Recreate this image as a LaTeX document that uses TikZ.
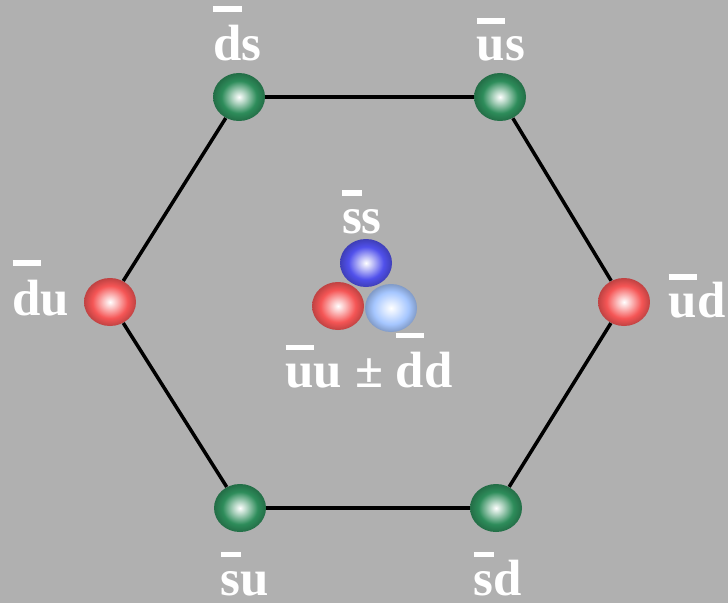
\documentclass[tikz,border=0pt]{standalone}
\usepackage{fontspec}
\setmainfont{Liberation Serif}
\usetikzlibrary{shapes.geometric,positioning}

\definecolor{bggray}{RGB}{176,176,176}
\definecolor{ballgreen}{RGB}{45,140,90}
\definecolor{ballred}{RGB}{245,85,85}
\definecolor{ballblue}{RGB}{80,80,235}
\definecolor{balllight}{RGB}{165,198,255}
\colorlet{ballcol}{gray}

\pgfdeclareradialshading[ballcol]{glossy}{\pgfpoint{0bp}{0bp}}{%
  color(0bp)=(white); color(7bp)=(ballcol!40!white); color(17bp)=(ballcol);
  color(25bp)=(ballcol!78!black); color(50bp)=(ballcol!78!black)}

% bar over the first quark
\newcommand{\qbar}[1]{\setbox0\hbox{#1}%
  \rlap{\raisebox{\dimexpr\ht0+0.27em\relax}{\rule{\wd0}{0.11em}}}\box0}

\begin{document}
\begin{tikzpicture}[
    ball/.style={ellipse, minimum width=1.04cm, minimum height=0.96cm, inner sep=0pt,
      /utils/exec={\colorlet{ballcol}{#1}}, shade, shading=glossy},
    lbl/.style={text=white, inner sep=0pt, font=\fontsize{29}{31}\selectfont\bfseries},
    link/.style={line width=2pt}]
  \fill[bggray] (0,0) rectangle (14.56,12.06);
  \useasboundingbox (0,0) rectangle (14.56,12.06);

  % kaons on the hexagon
  \node[ball=ballgreen] (ds) at (4.78,10.12) {};
  \node[ball=ballgreen] (us) at (10.00,10.12) {};
  \node[ball=ballred]   (du) at (2.20,6.02) {};
  \node[ball=ballred]   (ud) at (12.48,6.02) {};
  \node[ball=ballgreen] (su) at (4.80,1.90) {};
  \node[ball=ballgreen] (sd) at (9.92,1.90) {};

  % neutral states in the centre
  \node[ball=ballblue]  (ssball) at (7.32,6.80) {};
  \node[ball=balllight] (ddball) at (7.82,5.90) {};
  \node[ball=ballred]   (uuball) at (6.76,5.94) {};

  \foreach \a/\b in {ds/us, us/ud, ud/sd, sd/su, su/du, du/ds}
    \draw[link] (\a) -- (\b);

  \node[lbl, above=0.22cm of ds, xshift=-0.03cm] {\qbar{d}s};
  \node[lbl, above=0.22cm of us, xshift=0.02cm] {\qbar{u}s};
  \node[lbl, left=0.28cm of du.west, anchor=base east, yshift=-0.26cm] {\qbar{d}u};
  \node[lbl, right=0.36cm of ud.east, anchor=base west, yshift=-0.30cm] {\qbar{u}d};
  \node[lbl, below=0.38cm of su, xshift=0.1cm] {\qbar{s}u};
  \node[lbl, below=0.38cm of sd, xshift=0.04cm] {\qbar{s}d};
  \node[lbl, above=0.08cm of ssball, xshift=-0.08cm] {\qbar{s}s};
  \node[lbl, below=0.04cm of uuball.south, xshift=0.62cm] {\qbar{u}u ± \qbar{d}d};
\end{tikzpicture}
\end{document}
